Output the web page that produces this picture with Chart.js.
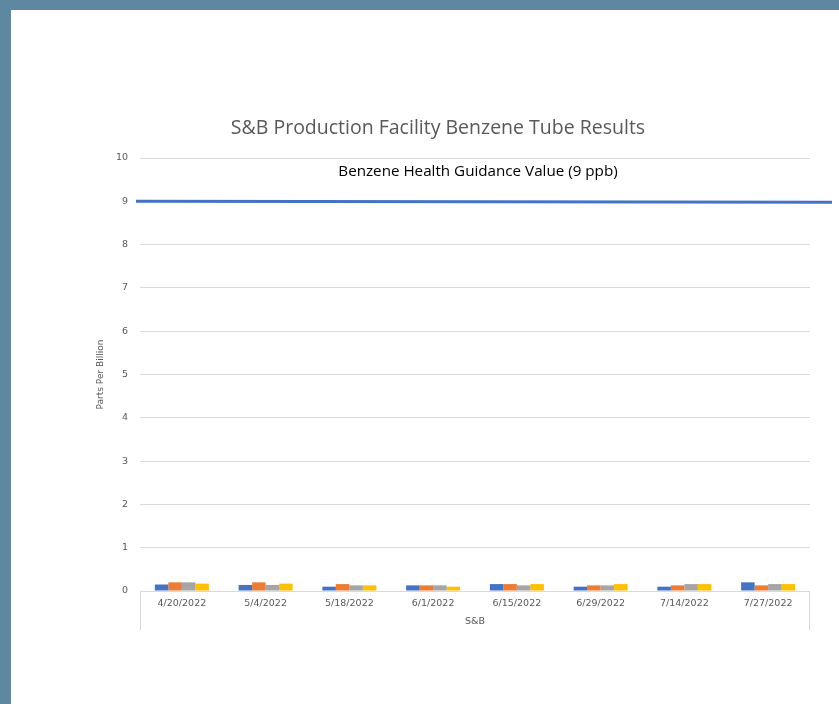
<!DOCTYPE html>
<html>
<head>
<meta charset="utf-8">
<script src="https://cdn.jsdelivr.net/npm/chart.js@4.4.1/dist/chart.umd.min.js"></script>
<style>
  html, body { margin: 0; padding: 0; background: #5e87a1; }
  #wrap { position: absolute; left: 0; top: 0; width: 839px; height: 704px; }
</style>
</head>
<body>
<div id="wrap"><canvas id="c" width="839" height="704"></canvas></div>
<script>
// ---- Data ----
const categories = ["4/20/2022", "5/4/2022", "5/18/2022", "6/1/2022", "6/15/2022", "6/29/2022", "7/14/2022", "7/27/2022"];
const seriesNames = ["Tube 1", "Tube 2", "Tube 3", "Tube 4"];
const tube1 = [0.15, 0.14, 0.10, 0.13, 0.16, 0.10, 0.10, 0.20];
const tube2 = [0.20, 0.20, 0.16, 0.13, 0.16, 0.13, 0.13, 0.13];
const tube3 = [0.20, 0.14, 0.13, 0.13, 0.13, 0.13, 0.16, 0.16];
const tube4 = [0.17, 0.17, 0.13, 0.10, 0.16, 0.16, 0.16, 0.16];
const yTicks = [0, 1, 2, 3, 4, 5, 6, 7, 8, 9, 10];
const guidanceValue = 9;
const guidanceLabel = "Benzene Health Guidance Value (9 ppb)";
const chartTitle = "S&B Production Facility Benzene Tube Results";
const xAxisTitle = "S&B";
const yAxisTitle = "Parts Per Billion";

const colors = ["#4472c4", "#ed7d31", "#a5a5a5", "#ffc000"];
const seriesValues = [tube1, tube2, tube3, tube4];

const FONT = "'Open Sans', 'DejaVu Sans', sans-serif";
const SMALL = "'DejaVu Sans', sans-serif";

const framePlugin = {
  id: 'frame',
  beforeDraw(chart) {
    const ctx = chart.ctx;
    ctx.save();
    ctx.fillStyle = '#5e87a1';
    ctx.fillRect(0, 0, chart.width, chart.height);
    ctx.fillStyle = '#ffffff';
    ctx.fillRect(11, 10, chart.width - 11, chart.height - 10);
    ctx.restore();
  },
  afterDatasetsDraw(chart) {
    const ctx = chart.ctx;
    const ya = chart.scales.y;
    const area = chart.chartArea;
    ctx.save();
    // category group box lines
    ctx.strokeStyle = '#d9d9d9';
    ctx.lineWidth = 1;
    ctx.beginPath();
    ctx.moveTo(area.left + 0.5, area.bottom);
    ctx.lineTo(area.left + 0.5, area.bottom + 39);
    ctx.moveTo(area.right - 0.5, area.bottom);
    ctx.lineTo(area.right - 0.5, area.bottom + 39);
    ctx.stroke();
    // guidance line
    const gy = ya.getPixelForValue(guidanceValue);
    ctx.strokeStyle = '#4472c4';
    ctx.lineWidth = 3;
    ctx.beginPath();
    ctx.moveTo(area.left - 4, gy);
    ctx.lineTo(area.right + 22, gy + 1);
    ctx.stroke();
    // guidance label
    ctx.fillStyle = '#000000';
    ctx.font = "15.2px " + FONT;
    ctx.textAlign = 'center';
    ctx.textBaseline = 'middle';
    ctx.fillText(guidanceLabel, (area.left + area.right) / 2 + 3, ya.getPixelForValue(guidanceValue + 0.68));
    ctx.restore();
  }
};

new Chart(document.getElementById('c'), {
  type: 'bar',
  data: {
    labels: categories,
    datasets: seriesValues.map((vals, i) => ({
      label: seriesNames[i],
      data: vals,
      backgroundColor: colors[i],
      borderWidth: 0,
      barPercentage: 1.0,
      categoryPercentage: 0.645
    }))
  },
  options: {
    responsive: false,
    animation: false,
    devicePixelRatio: 1,
    layout: { padding: { left: 66, right: 29, top: 0, bottom: 0 } },
    plugins: {
      legend: { display: false },
      tooltip: { enabled: false },
      title: {
        display: true,
        text: chartTitle,
        color: '#595959',
        font: { family: FONT, size: 19.5, weight: 'normal', lineHeight: 1.2 },
        padding: { top: 116.3, bottom: 18.3 }
      }
    },
    scales: {
      x: {
        grid: { display: false, drawTicks: false },
        border: { display: false },
        ticks: {
          color: '#595959',
          font: { family: SMALL, size: 9.5 },
          padding: 7,
          maxRotation: 0,
          autoSkip: false
        },
        title: {
          display: true,
          text: xAxisTitle,
          color: '#595959',
          font: { family: SMALL, size: 9.5, lineHeight: 1.2 },
          padding: { top: 4, bottom: 76.3 }
        },
        afterFit(scale) { scale.height = 113; }
      },
      y: {
        min: 0,
        max: 10,
        afterBuildTicks(scale) { scale.ticks = yTicks.map(v => ({ value: v })); },
        grid: { color: '#d9d9d9', lineWidth: 1, drawTicks: false },
        border: { display: false },
        ticks: {
          color: '#595959',
          font: { family: SMALL, size: 9.5 },
          padding: 12
        },
        title: {
          display: true,
          text: yAxisTitle,
          color: '#595959',
          font: { family: SMALL, size: 9, lineHeight: 1.2 },
          padding: { top: 29, bottom: 0 }
        },
        afterFit(scale) { scale.width = 74; }
      }
    }
  },
  plugins: [framePlugin]
});
</script>
</body>
</html>
